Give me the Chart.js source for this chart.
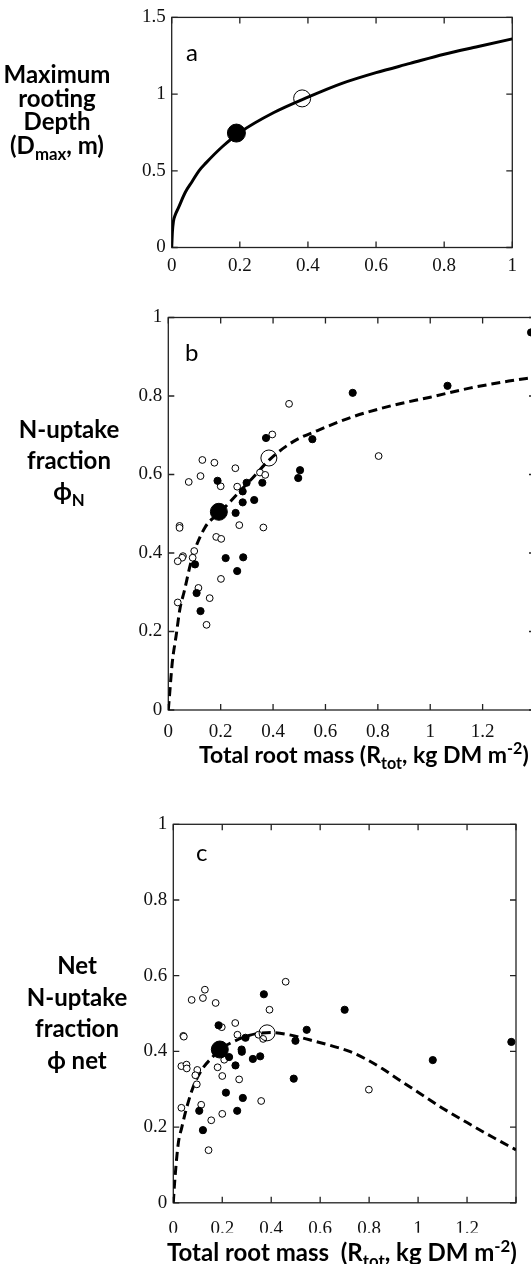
<!DOCTYPE html>
<html>
<head>
<meta charset="utf-8">
<script src="https://cdn.jsdelivr.net/npm/chart.js@4.4.1/dist/chart.umd.min.js"></script>
<style>
  html, body { margin: 0; padding: 0; background: #fff; }
  body { width: 531px; height: 1264px; overflow: hidden; position: relative; }
  canvas { position: absolute; left: 0; display: block; }
  .ytitle { position: absolute; width: 150px; text-align: center; font-family: Lato, "Open Sans", sans-serif; font-weight: bold; font-size: 24px; color: #000; }
  .xtitle { position: absolute; white-space: pre; font-family: Lato, "Open Sans", sans-serif; font-weight: bold; font-size: 23px; color: #000; }
  .letter { position: absolute; font-family: Lato, "Open Sans", sans-serif; font-size: 24px; color: #000; }
  sub, sup { font-size: 70%; line-height: 0; }
</style>
</head>
<body>
<canvas id="chartA" width="531" height="290" style="top:0px"></canvas>
<canvas id="chartB" width="560" height="450" style="top:290px"></canvas>
<canvas id="chartC" width="531" height="474" style="top:790px"></canvas>

<div class="ytitle" style="left:-18px; top:62px; line-height:23.5px">Maximum<br>rooting<br>Depth<br>(D<sub>max</sub>, m)</div>
<div class="ytitle" style="left:-6px; top:413px; line-height:31px">N-uptake<br>fraction<br>ϕ<sub>N</sub></div>
<div class="ytitle" style="left:2px; top:949px; line-height:31.5px">Net<br>N-uptake<br>fraction<br>ϕ net</div>

<div class="xtitle" style="left:199px; top:740px">Total root mass (R<sub>tot</sub>, kg DM m<sup>-2</sup>)</div>
<div class="xtitle" style="left:167px; top:1237px; font-size:24px">Total root mass  (R<sub>tot</sub>, kg DM m<sup>-2</sup>)</div>

<div class="letter" style="left:186px; top:37px">a</div>
<div class="letter" style="left:185px; top:337px">b</div>
<div class="letter" style="left:196px; top:837px">c</div>

<script>
// panel a: maximum rooting depth vs total root mass
const aCurveX = [0, 0.002, 0.005, 0.01, 0.02, 0.04, 0.06, 0.08, 0.1, 0.15, 0.2, 0.3, 0.4, 0.5, 0.6, 0.7, 0.8, 0.9, 1.0];
const aCurveY = [0, 0.1, 0.17, 0.21, 0.26, 0.36, 0.43, 0.5, 0.55, 0.66, 0.75, 0.88, 0.98, 1.07, 1.14, 1.2, 1.26, 1.31, 1.36];
const aFilledBig = [0.19, 0.746];
const aOpenBig = [0.383, 0.972];

// panel b: N-uptake fraction
const bCurveX = [0, 0.005, 0.015, 0.03, 0.045, 0.06, 0.09, 0.14, 0.2, 0.27, 0.32, 0.39, 0.48, 0.57, 0.7, 0.85, 1.0, 1.15, 1.3, 1.4];
const bCurveY = [0, 0.04, 0.12, 0.19, 0.26, 0.3, 0.385, 0.465, 0.505, 0.555, 0.59, 0.64, 0.685, 0.712, 0.746, 0.775, 0.797, 0.82, 0.838, 0.848];
const bOpenX = [0.461, 0.397, 0.130, 0.176, 0.123, 0.078, 0.256, 0.200, 0.263, 0.350, 0.370, 0.363, 0.271, 0.043, 0.043, 0.183, 0.202, 0.099, 0.056, 0.053, 0.036, 0.093, 0.201, 0.115, 0.036, 0.158, 0.146, 0.803];
const bOpenY = [0.780, 0.702, 0.637, 0.630, 0.596, 0.581, 0.616, 0.570, 0.569, 0.605, 0.599, 0.465, 0.471, 0.469, 0.464, 0.441, 0.436, 0.405, 0.392, 0.388, 0.379, 0.388, 0.334, 0.311, 0.274, 0.285, 0.217, 0.647];
const bFilledX = [0.373, 0.550, 0.496, 0.503, 0.359, 0.299, 0.188, 0.284, 0.284, 0.328, 0.257, 0.219, 0.286, 0.263, 0.108, 0.123, 0.102, 0.704, 1.066, 1.385];
const bFilledY = [0.693, 0.690, 0.591, 0.611, 0.579, 0.579, 0.584, 0.557, 0.529, 0.535, 0.502, 0.387, 0.389, 0.354, 0.298, 0.252, 0.371, 0.808, 0.826, 0.962];
const bFilledBig = [0.193, 0.505];
const bOpenBig = [0.384, 0.642];

// panel c: net N-uptake fraction
const cCurveX = [0, 0.005, 0.02, 0.035, 0.05, 0.07, 0.09, 0.12, 0.16, 0.19, 0.24, 0.29, 0.34, 0.4, 0.48, 0.56, 0.64, 0.72, 0.78, 0.85, 0.92, 1.0, 1.1, 1.2, 1.3, 1.4];
const cCurveY = [0, 0.05, 0.155, 0.2, 0.24, 0.285, 0.32, 0.355, 0.385, 0.405, 0.424, 0.438, 0.447, 0.45, 0.443, 0.43, 0.416, 0.4, 0.382, 0.356, 0.326, 0.292, 0.25, 0.212, 0.175, 0.14];
const cOpenX = [0.459, 0.393, 0.129, 0.121, 0.075, 0.173, 0.253, 0.198, 0.041, 0.043, 0.262, 0.348, 0.367, 0.033, 0.054, 0.055, 0.098, 0.090, 0.096, 0.181, 0.208, 0.200, 0.269, 0.033, 0.114, 0.359, 0.155, 0.200, 0.144, 0.799];
const cOpenY = [0.584, 0.510, 0.563, 0.541, 0.536, 0.528, 0.475, 0.464, 0.441, 0.439, 0.444, 0.444, 0.433, 0.361, 0.365, 0.355, 0.351, 0.337, 0.313, 0.358, 0.378, 0.335, 0.326, 0.251, 0.259, 0.269, 0.218, 0.235, 0.139, 0.299];
const cFilledX = [0.370, 0.700, 0.545, 0.499, 0.492, 0.185, 0.295, 0.228, 0.279, 0.280, 0.325, 0.355, 0.254, 0.215, 0.284, 0.261, 0.106, 0.121, 1.060, 1.381];
const cFilledY = [0.551, 0.510, 0.457, 0.428, 0.328, 0.469, 0.436, 0.385, 0.405, 0.399, 0.380, 0.387, 0.363, 0.291, 0.277, 0.243, 0.243, 0.192, 0.377, 0.425];
const cFilledBig = [0.19, 0.405];
const cOpenBig = [0.383, 0.449];

const pts = (xs, ys) => xs.map((x, i) => ({ x: x, y: ys[i] }));
const fmt = v => String(Number(v.toFixed(2)));
// last x label (1.4) falls off the cropped figure
const fmtCut = v => (v > 1.3 ? '' : fmt(v));
const tickFont = { family: '"Liberation Serif", "Times New Roman", serif', size: 19 };

// frame around the plot area with inward ticks on all four sides
const frameTicks = {
  id: 'frameTicks',
  beforeDatasetsDraw(chart) {
    const ctx = chart.ctx, a = chart.chartArea, x = chart.scales.x, y = chart.scales.y;
    const L = 6;
    ctx.save();
    ctx.strokeStyle = '#222';
    ctx.lineWidth = 1.3;
    ctx.strokeRect(a.left, a.top, a.right - a.left, a.bottom - a.top);
    ctx.beginPath();
    x.ticks.forEach(t => {
      const px = x.getPixelForValue(t.value);
      ctx.moveTo(px, a.bottom); ctx.lineTo(px, a.bottom - L);
      ctx.moveTo(px, a.top); ctx.lineTo(px, a.top + L);
    });
    y.ticks.forEach(t => {
      const py = y.getPixelForValue(t.value);
      ctx.moveTo(a.left, py); ctx.lineTo(a.left + L, py);
      ctx.moveTo(a.right, py); ctx.lineTo(a.right - L, py);
    });
    ctx.stroke();
    ctx.restore();
  }
};

function scatterSet(data, radius, fill, bw) {
  return { type: 'scatter', data: data, pointRadius: radius, pointHoverRadius: radius,
    pointBackgroundColor: fill, pointBorderColor: '#000', pointBorderWidth: bw, showLine: false };
}
function curveSet(data, dash, width) {
  return { type: 'line', data: data, borderColor: '#000', borderWidth: width, borderDash: dash,
    pointRadius: 0, fill: false, cubicInterpolationMode: 'monotone' };
}

function makeChart(id, datasets, xr, yr, axisW, pad, xPad, xFmt) {
  return new Chart(document.getElementById(id), {
    type: 'scatter',
    data: { datasets: datasets },
    plugins: [frameTicks],
    options: {
      responsive: false,
      animation: false,
      events: [],
      layout: { padding: pad },
      plugins: { legend: { display: false }, tooltip: { enabled: false } },
      scales: {
        x: {
          type: 'linear', min: xr[0], max: xr[1],
          grid: { display: false, drawTicks: false }, border: { display: false },
          ticks: { stepSize: xr[2], font: tickFont, color: '#111', padding: xPad, callback: xFmt, maxRotation: 0, autoSkip: false },
          afterFit: s => { s.height = 30; }
        },
        y: {
          type: 'linear', min: yr[0], max: yr[1],
          grid: { display: false, drawTicks: false }, border: { display: false },
          ticks: { stepSize: yr[2], font: tickFont, color: '#111', padding: 6, callback: fmt },
          afterFit: s => { s.width = axisW; }
        }
      }
    }
  });
}

makeChart('chartA', [
  scatterSet([{ x: aFilledBig[0], y: aFilledBig[1] }], 9, '#000', 1),
  scatterSet([{ x: aOpenBig[0], y: aOpenBig[1] }], 8.5, 'rgba(0,0,0,0)', 1),
  curveSet(pts(aCurveX, aCurveY), [], 3)
], [0, 1, 0.2], [0, 1.5, 0.5], 171.7, { left: 0, right: 18.7, top: 16.5, bottom: 12.5 }, 7, fmt);

makeChart('chartB', [
  scatterSet([{ x: bFilledBig[0], y: bFilledBig[1] }], 8.5, '#000', 1),
  scatterSet([{ x: bOpenBig[0], y: bOpenBig[1] }], 8, 'rgba(0,0,0,0)', 1),
  scatterSet(pts(bFilledX, bFilledY), 3.6, '#000', 1),
  scatterSet(pts(bOpenX, bOpenY), 3.4, '#fff', 1),
  curveSet(pts(bCurveX, bCurveY), [9, 5], 3)
], [0, 1.4, 0.2], [0, 1, 0.2], 168.3, { left: 0, right: 25, top: 27.5, bottom: 0 }, 11, fmtCut);

makeChart('chartC', [
  scatterSet([{ x: cFilledBig[0], y: cFilledBig[1] }], 8.5, '#000', 1),
  scatterSet([{ x: cOpenBig[0], y: cOpenBig[1] }], 8, 'rgba(0,0,0,0)', 1),
  scatterSet(pts(cFilledX, cFilledY), 3.6, '#000', 1),
  scatterSet(pts(cOpenX, cOpenY), 3.4, '#fff', 1),
  curveSet(pts(cCurveX, cCurveY), [9, 5], 3)
], [0, 1.4, 0.2], [0, 1, 0.2], 173.3, { left: 0, right: 2, top: 34.3, bottom: 31.2 }, 15, fmtCut);
</script>
</body>
</html>
